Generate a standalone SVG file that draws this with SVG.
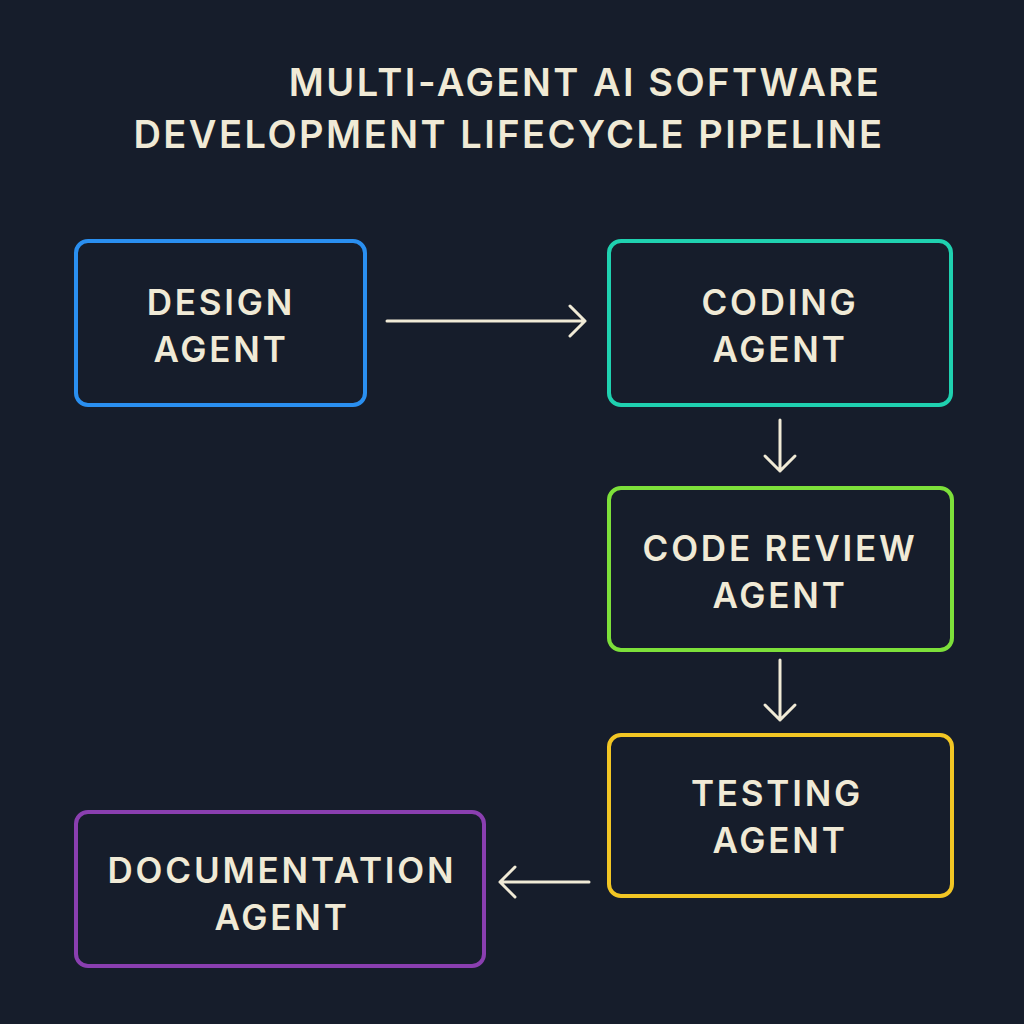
<svg xmlns="http://www.w3.org/2000/svg" width="1024" height="1024" viewBox="0 0 1024 1024">
<defs>
<style>
.t{font-family:"Inter","Liberation Sans",sans-serif;fill:#f0ead6;text-anchor:middle;font-weight:600}
.title{font-size:38px;letter-spacing:2.5px}
.lbl{font-size:35px;letter-spacing:2.8px}
.box{fill:none;stroke-width:4}
.c{stroke:#f0ead6;stroke-width:3;fill:none;stroke-linecap:round;stroke-linejoin:round}
</style>
</defs>
<rect width="1024" height="1024" fill="#161d2b"/>
<text class="t title" x="585" y="96">MULTI-AGENT AI SOFTWARE</text>
<text class="t title" x="509" y="148">DEVELOPMENT LIFECYCLE PIPELINE</text>
<g id="design"><rect class="box" x="76" y="241" width="289" height="164" rx="12" stroke="#2a8ff0"/>
<text class="t lbl" x="221" y="315">DESIGN</text><text class="t lbl" x="221" y="362">AGENT</text></g>
<g id="coding"><rect class="box" x="609" y="241" width="342" height="164" rx="12" stroke="#1fd1b0"/>
<text class="t lbl" x="780" y="315">CODING</text><text class="t lbl" x="780" y="362">AGENT</text></g>
<g id="review"><rect class="box" x="609" y="488" width="343" height="162" rx="12" stroke="#7de03a"/>
<text class="t lbl" x="780" y="561">CODE REVIEW</text><text class="t lbl" x="780" y="608">AGENT</text></g>
<g id="testing"><rect class="box" x="609" y="735" width="343" height="161" rx="12" stroke="#f2c624"/>
<text class="t lbl" x="777" y="806">TESTING</text><text class="t lbl" x="780" y="853">AGENT</text></g>
<g id="docs"><rect class="box" x="76" y="812" width="408" height="154" rx="12" stroke="#8a3fb0"/>
<text class="t lbl" x="282" y="883">DOCUMENTATION</text><text class="t lbl" x="282" y="930">AGENT</text></g>
<g id="connectors">
<path class="c" d="M387 321H585M570 306L585 321L570 336"/>
<path class="c" d="M780 420V471M765 456L780 471L795 456"/>
<path class="c" d="M780 660V720M765 705L780 720L795 705"/>
<path class="c" d="M589 882H500M515 867L500 882L515 897"/>
</g>
</svg>
